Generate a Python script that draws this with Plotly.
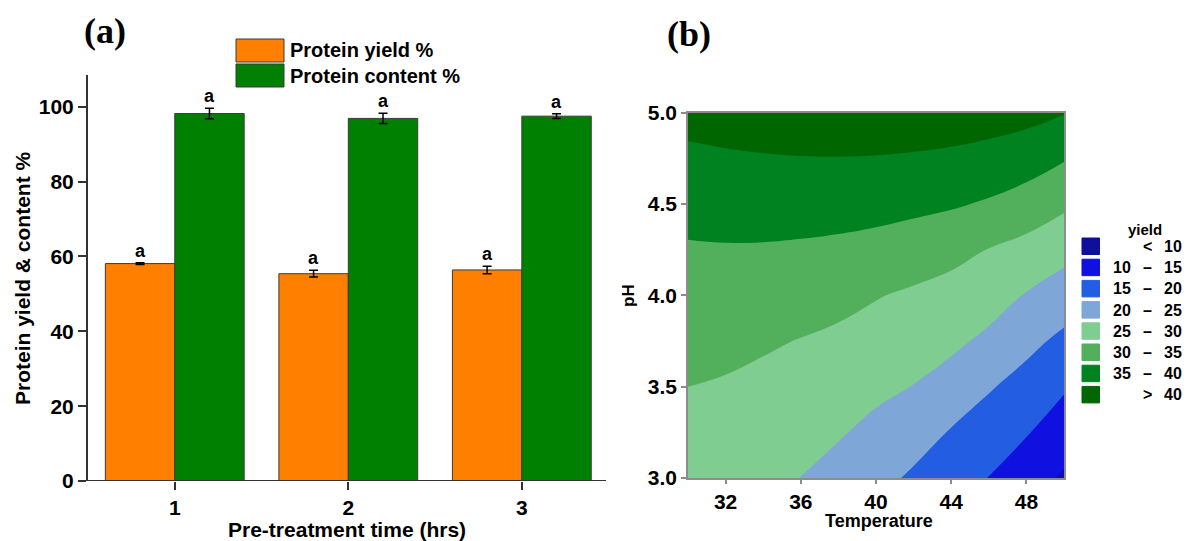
import plotly.graph_objects as go

W, H = 1186, 541

# ---- Panel (a): protein yield and protein content vs pre-treatment time ----
times = [1, 2, 3]
yield_pct = [58.1, 55.4, 56.4]
yield_err = [0.25, 0.9, 1.0]
content_pct = [98.2, 96.9, 97.5]
content_err = [1.4, 1.35, 0.65]
yield_letters = ["a", "a", "a"]
content_letters = ["a", "a", "a"]

# ---- Panel (b): yield response surface over temperature and pH ----
temperature = [30, 32, 34, 36, 38, 40, 42, 44, 46, 48, 50]
ph = [3.0, 3.25, 3.5, 3.75, 4.0, 4.25, 4.5, 4.75, 5.0]
yield_surface = [
    [28.3, 27.4, 26.1, 24.95, 23.3, 21.4, 19.3, 17.0, 14.9, 12.2, 9.4],
    [29.0, 28.5, 27.5, 26.57, 25.44, 23.8, 21.98, 19.68, 17.6, 15.34, 12.44],
    [30.0, 29.6, 28.9, 28.2, 27.26, 26.03, 24.88, 23.01, 20.43, 18.22, 15.54],
    [31.2, 31.13, 30.56, 29.84, 29.09, 28.1, 27.1, 26.0, 24.0, 21.3, 18.92],
    [32.75, 32.9, 32.58, 32.07, 31.34, 30.26, 29.3, 28.38, 27.05, 24.73, 22.61],
    [34.55, 34.66, 34.6, 34.37, 34.01, 33.44, 32.54, 31.37, 29.89, 28.48, 26.58],
    [36.65, 36.97, 37.08, 37.05, 36.9, 36.62, 36.16, 35.54, 34.48, 32.88, 30.85],
    [39.0, 39.41, 39.69, 39.86, 39.9, 39.8, 39.53, 39.1, 38.39, 37.37, 35.38],
    [41.65, 42.1, 42.4, 42.7, 42.9, 43.0, 42.9, 42.66, 42.2, 41.5, 40.2],
]
band_lo = ["", "10", "15", "20", "25", "30", "35", ""]
band_sep = ["<", "\u2013", "\u2013", "\u2013", "\u2013", "\u2013", "\u2013", ">"]
band_hi = ["10", "15", "20", "25", "30", "35", "40", "40"]
band_colors = ["#0f0f9e", "#1010e0", "#235ee2", "#7ea7d8",
               "#80cd91", "#52af5b", "#008220", "#006600"]

ORANGE = "#ff8000"
GREEN = "#008000"
FONT = "Liberation Sans, Arial, sans-serif"
SERIF = "Liberation Serif, Times New Roman, serif"


def fx(px):
    return px / W


def fy(py):
    return 1 - py / H


def bold(size, color="black", family=FONT):
    return dict(family=family, size=size, color=color, weight="bold")


def label(x, y, text, size, xanchor="center", angle=0, family=FONT):
    return dict(x=fx(x), y=fy(y), xref="paper", yref="paper", text=text,
                showarrow=False, xanchor=xanchor, yanchor="middle",
                textangle=angle, font=bold(size, family=family))


fig = go.Figure()

fig.add_trace(go.Bar(
    x=times, y=yield_pct, name="Protein yield %",
    marker=dict(color=ORANGE, line=dict(color="#3a3a3a", width=1)),
    error_y=dict(type="data", array=yield_err, color="black", thickness=1.5, width=4.5),
    xaxis="x", yaxis="y", showlegend=False,
))
fig.add_trace(go.Bar(
    x=times, y=content_pct, name="Protein content %",
    marker=dict(color=GREEN, line=dict(color="#3a3a3a", width=1)),
    error_y=dict(type="data", array=content_err, color="black", thickness=1.5, width=4.5),
    xaxis="x", yaxis="y", showlegend=False,
))

fig.add_trace(go.Contour(
    x=temperature, y=ph, z=yield_surface,
    xaxis="x2", yaxis="y2",
    autocontour=False,
    contours=dict(start=10, end=40, size=5, coloring="fill", showlines=False),
    line=dict(width=0, smoothing=1.3),
    colorscale=[[i / 7, c] for i, c in enumerate(band_colors)],
    showscale=False, hoverinfo="skip",
))

annotations = []
shapes = []

# significance letters above each bar
for t, v, e, s in zip(times, yield_pct, yield_err, yield_letters):
    annotations.append(dict(x=t - 0.2, y=v + e, xref="x", yref="y", text=s,
                            showarrow=False, xanchor="center", yanchor="bottom",
                            yshift=0, font=bold(18)))
for t, v, e, s in zip(times, content_pct, content_err, content_letters):
    annotations.append(dict(x=t + 0.2, y=v + e, xref="x", yref="y", text=s,
                            showarrow=False, xanchor="center", yanchor="bottom",
                            yshift=0, font=bold(18)))

# panel tags
annotations.append(label(105, 31, "(a)", 36, family=SERIF))
annotations.append(label(689, 34, "(b)", 36, family=SERIF))

# axis titles
annotations.append(label(347, 529, "Pre-treatment time (hrs)", 21))
annotations.append(label(22, 278, "Protein yield & content %", 21, angle=-90))
annotations.append(label(879, 521, "Temperature", 18))
annotations.append(label(628, 296, "pH", 17, angle=-90))

# legend for panel (a)
for (y0, y1), col, name in [((39, 62), ORANGE, "Protein yield %"),
                            ((64, 87), GREEN, "Protein content %")]:
    shapes.append(dict(type="rect", xref="paper", yref="paper",
                       x0=fx(236), x1=fx(284), y0=fy(y1), y1=fy(y0),
                       fillcolor=col, line=dict(color="#3a3a3a", width=1)))
    annotations.append(label(288, (y0 + y1) / 2, name, 20, xanchor="left"))

# legend for panel (b)
annotations.append(label(1145, 229, "yield", 15))
for i, (lo, sep, hi, col) in enumerate(zip(band_lo, band_sep, band_hi, band_colors)):
    top = 238 + 21.2 * i
    cy = top + 8.5
    shapes.append(dict(type="rect", xref="paper", yref="paper",
                       x0=fx(1082), x1=fx(1099.5), y0=fy(top + 16.5), y1=fy(top),
                       fillcolor=col, line=dict(color=col, width=1)))
    if lo:
        annotations.append(label(1133, cy, lo, 16, xanchor="right"))
    annotations.append(label(1147, cy, sep, 16))
    annotations.append(label(1184, cy, hi, 16, xanchor="right"))

# baseline of panel (a), running slightly past the y axis
shapes.append(dict(type="line", xref="paper", yref="y", x0=fx(80), x1=fx(606),
                   y0=0, y1=0, line=dict(color="#333333", width=2), layer="above"))

fig.update_layout(
    width=W, height=H, autosize=False,
    margin=dict(l=0, r=0, t=0, b=0, pad=0, autoexpand=False),
    paper_bgcolor="white", plot_bgcolor="white",
    barmode="group", bargap=0.2, bargroupgap=0,
    showlegend=False,
    xaxis=dict(domain=[fx(88), fx(606)], range=[0.5, 3.485], tickvals=times,
               showline=False, showgrid=False, zeroline=False,
               ticks="outside", ticklen=8, tickwidth=2, tickcolor="#333333",
               tickfont=bold(21), anchor="y", automargin=False),
    yaxis=dict(domain=[fy(481), fy(75)], range=[0, 108.5], tickvals=[0, 20, 40, 60, 80, 100],
               showline=True, linecolor="#333333", linewidth=2,
               showgrid=False, zeroline=False,
               ticks="outside", ticklen=8, tickwidth=2, tickcolor="#333333",
               tickfont=bold(21), anchor="x", automargin=False),
    xaxis2=dict(domain=[fx(688), fx(1064)], range=[30, 50], tickvals=[32, 36, 40, 44, 48],
                showline=True, mirror=True, linecolor="#8c8c8c", linewidth=1.5,
                showgrid=False, zeroline=False,
                ticks="outside", ticklen=4, tickwidth=1.5, tickcolor="#8c8c8c",
                tickfont=bold(21), anchor="y2", automargin=False),
    yaxis2=dict(domain=[fy(478), fy(112.5)], range=[3, 5], tickvals=[3.0, 3.5, 4.0, 4.5, 5.0],
                tickformat=".1f",
                showline=True, mirror=True, linecolor="#8c8c8c", linewidth=1.5,
                showgrid=False, zeroline=False,
                ticks="outside", ticklen=5, tickwidth=1.5, tickcolor="#8c8c8c",
                tickfont=bold(21), anchor="x2", automargin=False),
    annotations=annotations,
    shapes=shapes,
)

fig.write_html("out.html")
